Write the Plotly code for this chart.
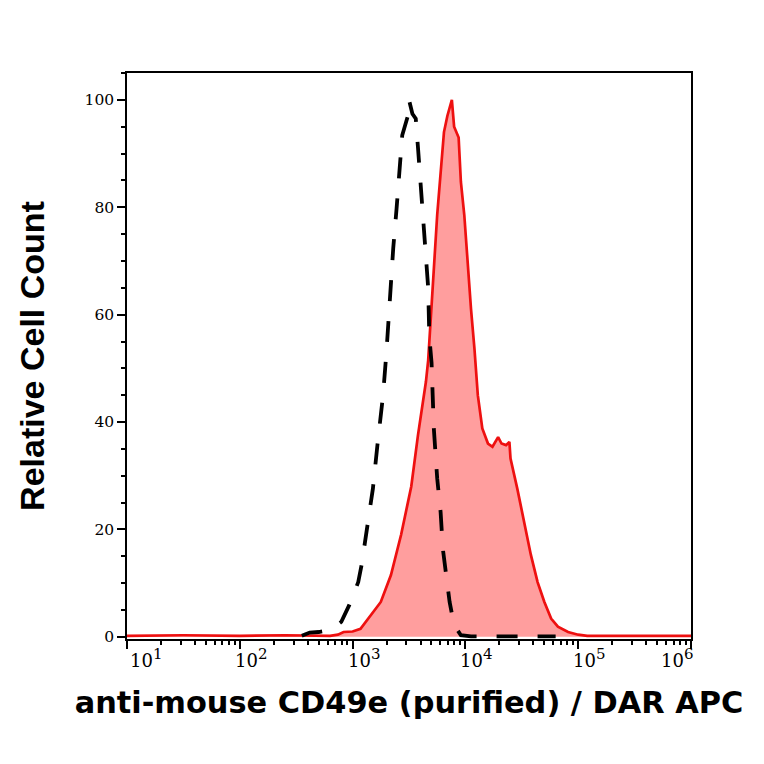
import numpy as np
import plotly.graph_objects as go

# stained sample (red, filled) - log10 intensity vs relative count
stained_log = [1.0, 1.5, 2.0, 2.4, 2.8, 2.87, 2.92, 3.0, 3.07, 3.16, 3.25, 3.34, 3.43, 3.49,
               3.52, 3.58, 3.65, 3.67, 3.71, 3.75, 3.81, 3.84, 3.88, 3.90, 3.94, 3.96,
               3.99, 4.02, 4.05, 4.08, 4.11, 4.15, 4.20, 4.24, 4.29, 4.32, 4.36, 4.39,
               4.40, 4.46, 4.52, 4.58, 4.64, 4.70, 4.76, 4.82, 4.91, 5.0, 5.08, 5.5, 6.0]
stained_count = [0.2, 0.3, 0.2, 0.3, 0.2, 0.4, 0.9, 1.0, 1.5, 4.0, 6.5, 11.5, 19.0, 25.0,
                 28.0, 37.6, 47.5, 51.5, 66.0, 78.6, 94.0, 97.0, 100.0, 95.0, 93.0, 84.7,
                 78.6, 69.0, 61.0, 53.7, 45.0, 38.8, 36.0, 35.4, 37.2, 36.0, 35.7, 36.3,
                 33.2, 27.6, 21.4, 15.3, 10.2, 6.5, 3.4, 1.9, 0.9, 0.4, 0.2, 0.2, 0.2]

# isotype control (black, dashed)
control_log = [2.55, 2.62, 2.70, 2.78, 2.85, 2.90, 2.97, 3.05, 3.08, 3.13, 3.18, 3.22, 3.27,
               3.30, 3.33, 3.36, 3.39, 3.42, 3.44, 3.49, 3.50, 3.53, 3.56, 3.58, 3.60,
               3.62, 3.64, 3.67, 3.68, 3.70, 3.71, 3.72, 3.75, 3.78, 3.80, 3.83, 3.86,
               3.90, 3.96, 4.05, 4.3, 4.6, 4.8]
control_count = [0.2, 0.8, 0.9, 1.2, 2.0, 2.8, 5.9, 10.2, 13.4, 20.2, 27.6, 35.7, 45.0,
                 53.0, 63.0, 72.3, 79.8, 87.8, 93.4, 97.0, 100.0, 97.4, 96.5, 91.0, 84.7,
                 79.8, 73.6, 65.0, 56.0, 51.0, 45.0, 38.8, 29.5, 23.3, 16.4, 10.9, 6.5,
                 2.2, 0.3, 0.1, 0.1, 0.1, 0.1]

x_tick_vals = [10, 100, 1000, 10000, 100000, 1000000]
x_tick_exp = ["1", "2", "3", "4", "5", "6"]
y_tick_vals = [0, 20, 40, 60, 80, 100]

x_minor = [m * 10 ** d for d in range(1, 6) for m in range(2, 10)]
label_shift = [19, 11, 11, 11, 11, -14]   # labels sit a little right of ticks, kept inside at ends

fig = go.Figure()
fig.add_trace(go.Scatter(
    x=10 ** np.array(stained_log), y=stained_count, mode="lines",
    line=dict(color="#ee1010", width=2.7),
    fill="tozeroy", fillcolor="rgba(255,40,40,0.45)",
))
fig.add_trace(go.Scatter(
    x=10 ** np.array(control_log), y=control_count, mode="lines",
    line=dict(color="black", width=3.8, dash="21px,20px"),
))

# x tick labels "10^n" with a near full-size exponent
for v, e, s in zip(x_tick_vals, x_tick_exp, label_shift):
    fig.add_annotation(
        x=np.log10(v), xref="x", y=0, yref="paper", yanchor="top",
        text='10<sup><span style="font-size:15px">' + e + "</span></sup>",
        showarrow=False, xshift=s, yshift=-4,
        font=dict(family="DejaVu Serif", size=18, color="black"),
    )

fig.update_layout(
    width=764, height=764,
    margin=dict(l=119, r=81, t=65, b=133),
    paper_bgcolor="white", plot_bgcolor="white",
    showlegend=False,
)
fig.update_xaxes(
    type="log", range=[1, 6.0],
    tickvals=x_tick_vals, showticklabels=False,
    ticks="outside", ticklen=8, tickwidth=1.5, tickcolor="black",
    minor=dict(tickvals=x_minor, ticks="outside", ticklen=4, tickcolor="black"),
    showline=True, linecolor="black", linewidth=1.5, mirror=True,
    showgrid=False, zeroline=False,
    title=dict(text="<b>anti-mouse CD49e (purified) / DAR APC</b>",
               font=dict(family="DejaVu Sans", size=30.4, color="black"), standoff=44),
)
fig.update_yaxes(
    range=[-0.4, 105],
    tickvals=y_tick_vals,
    ticks="outside", ticklen=8, tickwidth=1.5, tickcolor="black",
    minor=dict(dtick=5, ticks="outside", ticklen=4, tickcolor="black"),
    showline=True, linecolor="black", linewidth=1.5, mirror=True,
    showgrid=False, zeroline=False,
    tickfont=dict(family="DejaVu Serif", size=15.5, color="black"),
    title=dict(text="<b>Relative Cell Count</b>",
               font=dict(family="Liberation Sans", size=34, color="black"), standoff=30),
)

fig.write_html("out.html")
